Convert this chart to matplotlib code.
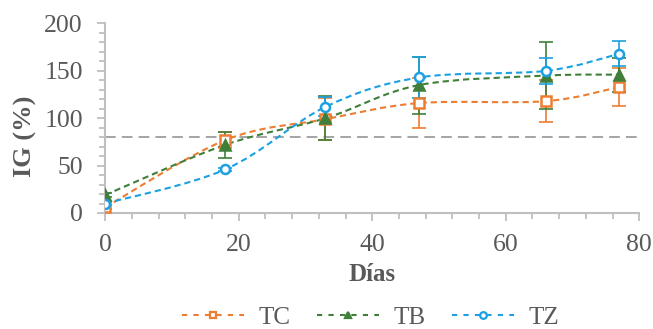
import numpy as np
import matplotlib
matplotlib.use("Agg")
import matplotlib.pyplot as plt
from matplotlib.path import Path
from matplotlib.patches import PathPatch
from matplotlib.lines import Line2D
from matplotlib.ticker import MultipleLocator

# sampling days and germination index per treatment
dias = [0, 18, 33, 47, 66, 77]
tc = [6, 77, 99, 116, 118, 133]
tc_err = [2, 8, 22, 26, 22, 20]
tb = [19, 72, 100, 135, 145, 146]
tb_err = [2, 14, 23, 30, 35, 18]
tz = [10, 46, 112, 143, 150, 168]
tz_err = [2, 2, 10, 22, 14, 13]
limite = 80

plt.rcParams['font.family'] = ['Liberation Serif', 'DejaVu Serif']

c_tc = '#ED7D31'
c_tb = '#3F7F3A'
c_tz = '#1BA1E2'
gris = '#595959'
dash = (0, (3, 1.9))


def smooth_path(x, y):
    # Catmull-Rom style bezier through the points, like spreadsheet smoothed lines
    p = np.column_stack([x, y]).astype(float)
    n = len(p)
    verts = [p[0]]
    codes = [Path.MOVETO]
    for i in range(n - 1):
        p0 = p[i - 1] if i > 0 else p[i]
        p3 = p[i + 2] if i + 2 < n else p[i + 1]
        c1 = p[i] + (p[i + 1] - p0) / 6
        c2 = p[i + 1] - (p3 - p[i]) / 6
        verts += [c1, c2, p[i + 1]]
        codes += [Path.CURVE4] * 3
    return Path(verts, codes)


fig = plt.figure(figsize=(6.53, 3.29), dpi=100)
ax = fig.add_axes([0.161, 0.3526, 0.818, 0.576])

ax.axhline(limite, color='#8C8C8C', lw=1.1, ls=(0, (7, 4)), zorder=1)

series = [
    ('TC', tc, tc_err, c_tc, 's', 'white'),
    ('TB', tb, tb_err, c_tb, '^', c_tb),
    ('TZ', tz, tz_err, c_tz, 'o', 'white'),
]
handles = []
for name, y, err, col, mk, face in series:
    ax.add_patch(PathPatch(smooth_path(dias, y), fill=False, edgecolor=col,
                           lw=1.5, ls=dash, zorder=2))
    ax.errorbar(dias, y, yerr=err, fmt='none', ecolor=col, elinewidth=1.2,
                capsize=5, capthick=1.2, zorder=3)
    ax.plot(dias, y, ls='none', marker=mk, ms=6.5, mec=col, mfc=face,
            mew=1.8, zorder=4)
    handles.append(Line2D([], [], color=col, lw=1.5, ls=(0, (2.5, 3)),
                          marker=mk, ms=4.8, mec=col, mfc=face, mew=1.6))

ax.set_xlim(0, 80)
ax.set_ylim(0, 200)
ax.xaxis.set_major_locator(MultipleLocator(20))
ax.xaxis.set_minor_locator(MultipleLocator(4))
ax.yaxis.set_major_locator(MultipleLocator(50))
ax.yaxis.set_minor_locator(MultipleLocator(10))

for s in ['top', 'right']:
    ax.spines[s].set_visible(False)
for s in ['left', 'bottom']:
    ax.spines[s].set_color('#BFBFBF')
    ax.spines[s].set_linewidth(1.5)
ax.tick_params(which='both', color='#BFBFBF', width=1.3, labelcolor=gris,
               labelsize=18.5)
ax.tick_params(which='major', length=6)
ax.tick_params(which='minor', length=4)
ax.tick_params(axis='y', which='major', pad=10)
ax.tick_params(axis='x', which='major', pad=9)

ax.set_xlabel('Días', fontsize=18, fontweight='bold', color=gris)
ax.set_ylabel('IG (%)', fontsize=19, fontweight='bold', color=gris)
ax.xaxis.set_label_coords(0.5, -0.265)
ax.yaxis.set_label_coords(-0.128, 0.406)

fig.legend(handles, ['TC', 'TB', 'TZ'], loc='center', ncol=3,
           bbox_to_anchor=(0.567, 0.035), frameon=False, fontsize=18,
           handlelength=2.5, columnspacing=1.05, handletextpad=0.56,
           labelcolor=gris, borderaxespad=0, borderpad=0)

fig.savefig('out.png', dpi=100)
